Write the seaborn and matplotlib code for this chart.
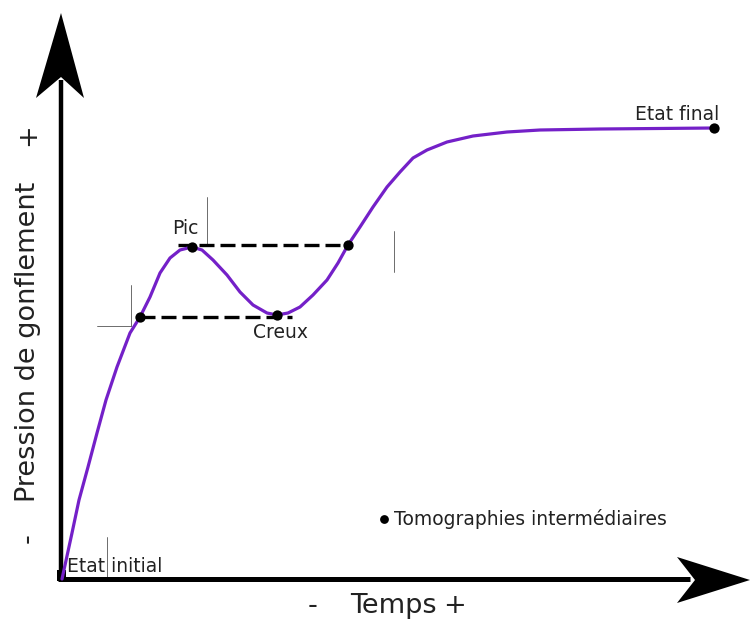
#!/usr/bin/env python3

# Schematic: swelling pressure against time, with the intermediate tomographies.

import matplotlib
matplotlib.use('Agg')
import matplotlib.pyplot as plt
import seaborn as sns

# Curve (time, pressure) in arbitrary units, origin at the axes corner.
time = [0, 10, 17, 26, 35, 44, 55, 68, 78, 88, 98, 108, 118, 130, 140, 151,
        165, 178, 191, 205, 215, 226, 238, 251, 265, 276, 286, 298, 311, 325,
        338, 351, 365, 385, 411, 445, 478, 538, 652]
pressure = [0, 46, 79, 112, 146, 179, 212, 246, 262, 282, 306, 321, 329, 332,
            329, 319, 304, 287, 274, 266, 264, 266, 272, 284, 299, 316, 334,
            352, 372, 392, 407, 421, 429, 437, 443, 447, 449, 450, 451]

# Tomography points
tomo_time = [78, 130, 215, 286, 652]
tomo_pressure = [262, 332, 264, 334, 451]

# Dashed levels: (start, end, level)
levels = [(116, 286, 334), (78, 230, 262)]

CURVE_COLOR = '#7420c8'


def px(x, y):
    # picture pixel -> data units
    return x - 62, 579 - y


def draw_axes_arrows(ax):
    ax.plot(*zip(px(61, 579), px(61, 80)), color='black', lw=3.2,
            solid_capstyle='butt', zorder=2)
    ax.plot(*zip(px(58, 579), px(690, 579)), color='black', lw=3.6,
            solid_capstyle='butt', zorder=2)
    up = [px(61, 13), px(84, 98), px(61, 77), px(36, 98)]
    right = [px(750, 580), px(677, 603), px(695, 580), px(677, 557)]
    for poly in (up, right):
        ax.fill(*zip(*poly), color='black', lw=0, zorder=2)
    # small black square at the origin
    ax.fill(*zip(px(57, 570), px(66, 570), px(66, 581), px(57, 581)),
            color='black', lw=0, zorder=4)


def draw_box_edges(ax):
    # faint leftover text-box edges from the original drawing
    segs = [((207, 197), (207, 244)), ((394, 231), (394, 272)),
            ((131, 285), (131, 326)), ((97, 326), (131, 326)),
            ((107, 537), (107, 577))]
    for a, b in segs:
        ax.plot(*zip(px(*a), px(*b)), color='#555555', lw=0.6, zorder=1)


def main():
    sns.set_style('white')
    plt.rcParams['font.family'] = ['DejaVu Sans']
    fig = plt.figure(figsize=(7.5, 6.22), dpi=100)
    ax = fig.add_axes([0, 0, 1, 1])
    ax.set_xlim(-62, 688)
    ax.set_ylim(-43, 579)
    ax.axis('off')

    draw_box_edges(ax)
    draw_axes_arrows(ax)

    for x0, x1, lev in levels:
        ax.plot([x0, x1], [lev, lev], color='black', lw=2.4,
                dashes=(4.5, 1.8), zorder=3)

    sns.lineplot(x=time, y=pressure, color=CURVE_COLOR, linewidth=2.3,
                 sort=False, ax=ax, zorder=4)
    ax.lines[-1].set_solid_joinstyle('round')
    sns.scatterplot(x=tomo_time, y=tomo_pressure, color='black', marker='o',
                    s=55, linewidth=0, ax=ax, zorder=5)

    txt = dict(color='#222222', fontsize=13.5)
    ax.text(*px(185, 228), 'Pic', ha='center', va='center', **txt)
    ax.text(*px(280, 333), 'Creux', ha='center', va='center', **txt)
    ax.text(*px(719, 114), 'Etat final', ha='right', va='center', **txt)
    ax.text(*px(67, 566), 'Etat initial', ha='left', va='center', **txt)
    ax.scatter(*px(384, 519), color='black', s=40, marker='o', lw=0)
    ax.text(*px(394, 519), 'Tomographies intermédiaires', ha='left',
            va='center', **txt)

    big = dict(color='#222222', fontsize=19.5)
    ax.text(*px(28, 342), 'Pression de gonflement', rotation=90,
            ha='center', va='center', **big)
    ax.text(*px(28, 135), '+', rotation=90, ha='center', va='center', **big)
    ax.text(*px(28, 538), '-', rotation=90, ha='center', va='center', **big)
    ax.text(*px(313, 606), '-', ha='center', va='center', **big)
    ax.text(*px(393, 606), 'Temps', ha='center', va='center', **big)
    ax.text(*px(455, 606), '+', ha='center', va='center', **big)

    fig.savefig('out.png', dpi=100)


if __name__ == '__main__':
    main()
